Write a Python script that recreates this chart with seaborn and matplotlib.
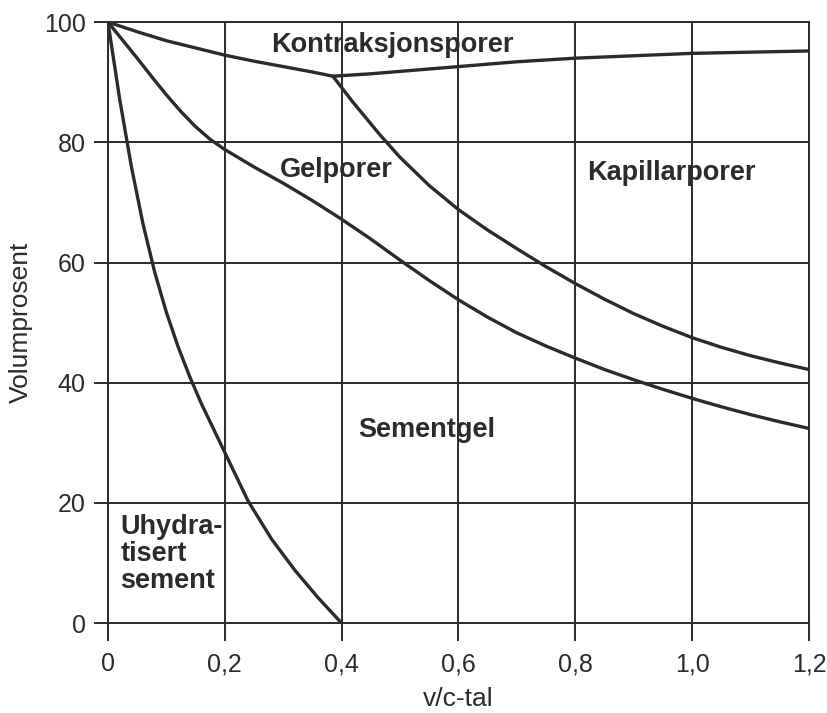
import matplotlib
matplotlib.use("Agg")
import matplotlib.pyplot as plt
import seaborn as sns

# Kontraksjonsporer (øvre kurve)
vc_kontraksjon = [0, 0.05, 0.1, 0.15, 0.2, 0.25, 0.3, 0.35, 0.385,
                  0.45, 0.5, 0.6, 0.7, 0.8, 0.9, 1.0, 1.1, 1.2]
pst_kontraksjon = [100, 98.4, 96.9, 95.7, 94.5, 93.5, 92.6, 91.7, 91.0,
                   91.4, 91.8, 92.6, 93.4, 94.0, 94.4, 94.8, 95.0, 95.2]

# Kapillarporer / gelporer grense
vc_kapillar = [0.385, 0.42, 0.466, 0.5, 0.55, 0.6, 0.65, 0.7, 0.75, 0.8, 0.85,
               0.9, 0.95, 1.0, 1.05, 1.1, 1.15, 1.2]
pst_kapillar = [91.0, 86.6, 81.2, 77.5, 72.8, 68.8, 65.4, 62.3, 59.3, 56.5, 53.9,
                51.5, 49.4, 47.5, 45.9, 44.5, 43.3, 42.2]

# Gelporer / sementgel grense
vc_gel = [0, 0.025, 0.05, 0.075, 0.1, 0.125, 0.15, 0.175, 0.2, 0.25, 0.3, 0.35,
          0.4, 0.45, 0.5, 0.55, 0.6, 0.65, 0.7, 0.75, 0.8, 0.85, 0.9, 0.95,
          1.0, 1.05, 1.1, 1.15, 1.2]
pst_gel = [100, 97.0, 94.0, 90.9, 87.9, 85.1, 82.6, 80.5, 78.8, 75.9, 73.2, 70.3,
           67.2, 63.9, 60.4, 57.0, 53.8, 50.9, 48.3, 46.1, 44.1, 42.2, 40.5, 38.9,
           37.4, 36.0, 34.7, 33.5, 32.4]

# Uhydratisert sement
vc_uhydr = [0, 0.02, 0.04, 0.06, 0.08, 0.1, 0.12, 0.14, 0.16, 0.2, 0.24, 0.28,
            0.32, 0.36, 0.4]
pst_uhydr = [100, 87.2, 76.0, 66.4, 58.4, 51.7, 46.0, 41.0, 36.5, 28.4, 20.3, 14.0,
             8.8, 4.2, 0]

x_ticks = [0, 0.2, 0.4, 0.6, 0.8, 1.0, 1.2]
x_tick_labels = ["0", "0,2", "0,4", "0,6", "0,8", "1,0", "1,2"]
y_ticks = [0, 20, 40, 60, 80, 100]

# tekst i diagrammet: (tekst, x, y, justering)
omraader = [
    ("Kontraksjonsporer", 0.487, 95.0, "center"),
    ("Gelporer", 0.295, 74.2, "left"),
    ("Kapillarporer", 0.82, 73.7, "left"),
    ("Sementgel", 0.428, 31.0, "left"),
    ("Uhydra-\ntisert\nsement", 0.021, 5.8, "left"),
]


def main():
    sns.set_style("ticks")
    plt.rcParams["font.family"] = ["Liberation Sans", "DejaVu Sans"]
    ink = "#2b2b2b"

    fig, ax = plt.subplots(figsize=(8.28, 7.13), dpi=100)
    fig.subplots_adjust(left=0.1304, right=0.977, top=0.969, bottom=0.126)

    kurver = [(vc_kontraksjon, pst_kontraksjon), (vc_kapillar, pst_kapillar),
              (vc_gel, pst_gel), (vc_uhydr, pst_uhydr)]
    for x, y in kurver:
        sns.lineplot(x=x, y=y, ax=ax, color=ink, lw=2.4, sort=False,
                     solid_joinstyle="round", solid_capstyle="round")

    ax.set_xlim(0, 1.2)
    ax.set_ylim(0, 100)
    ax.set_xticks(x_ticks)
    ax.set_xticklabels(x_tick_labels)
    ax.set_yticks(y_ticks)
    ax.set_axisbelow(True)
    ax.grid(True, color=ink, lw=1.4)
    for s in ax.spines.values():
        s.set_color(ink)
        s.set_linewidth(1.4)

    ax.tick_params(axis="x", direction="out", length=13, width=1.4, color=ink,
                   labelsize=18, labelcolor=ink, pad=8)
    ax.tick_params(axis="y", direction="out", length=10, width=1.4, color=ink,
                   labelsize=18, labelcolor=ink, pad=6)

    ax.set_xlabel("v/c-tal", fontsize=19, color=ink, labelpad=8)
    ax.set_ylabel("Volumprosent", fontsize=19, color=ink, labelpad=8)

    for tekst, x, y, ha in omraader:
        ax.text(x, y, tekst, ha=ha, va="baseline", fontsize=19.5,
                fontweight="bold", color=ink, linespacing=1.05)

    fig.savefig("out.png", dpi=100)


if __name__ == "__main__":
    main()
